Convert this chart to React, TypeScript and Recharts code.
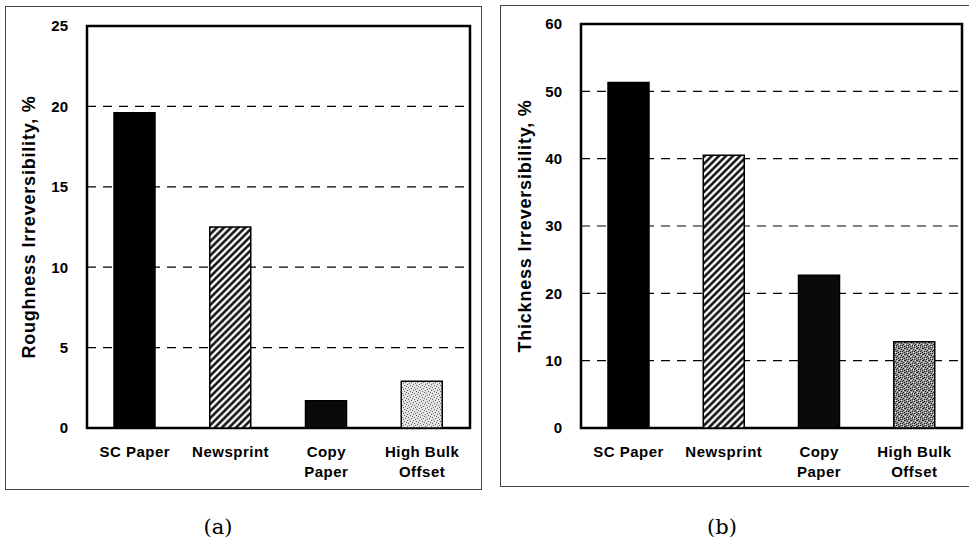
import React from "react";
import { Bar, BarChart, CartesianGrid, Cell, Label, ReferenceArea, XAxis, YAxis } from "recharts";

const categories = ["SC Paper", "Newsprint", "Copy Paper", "High Bulk Offset"];
const categoryLines = [["SC Paper"], ["Newsprint"], ["Copy", "Paper"], ["High Bulk", "Offset"]];
const roughness = [19.6, 12.5, 1.7, 2.9];
const thickness = [51.3, 40.5, 22.7, 12.8];
const roughnessTicks = [0, 5, 10, 15, 20, 25];
const thicknessTicks = [0, 10, 20, 30, 40, 50, 60];

const font = "'Liberation Sans', Arial, sans-serif";

function XTick({ x, y, payload }: any) {
  const lines = categoryLines[categories.indexOf(payload.value)] || [payload.value];
  return (
    <text x={x} y={y} textAnchor="middle" fontFamily={font} fontWeight="bold" fontSize={15} letterSpacing={0.5} fill="#000">
      {lines.map((t, i) => (
        <tspan key={t} x={x} dy={i === 0 ? 29 : 20}>
          {t}
        </tspan>
      ))}
    </text>
  );
}

function Patterns({ id }: { id: string }) {
  return (
    <defs>
      <pattern id={`hatch-${id}`} width={5} height={5} patternUnits="userSpaceOnUse" patternTransform="rotate(45)">
        <rect width={5} height={5} fill="#fff" />
        <line x1={1.5} y1={0} x2={1.5} y2={5} stroke="#000" strokeWidth={2.4} />
      </pattern>
      <pattern id={`dots-light-${id}`} width={6} height={6} patternUnits="userSpaceOnUse">
        <rect width={6} height={6} fill="#e4e4e4" />
        {[[0, 0], [3, 1], [1, 3], [4, 4], [5, 2], [2, 5]].map(([px, py]) => (
          <rect key={`${px}-${py}`} x={px} y={py} width={1} height={1} fill="#666" />
        ))}
      </pattern>
      <pattern id={`dots-dark-${id}`} width={6} height={6} patternUnits="userSpaceOnUse">
        <rect width={6} height={6} fill="#9a9a9a" />
        {[[0, 0], [3, 1], [1, 3], [4, 4], [5, 2], [2, 5], [2, 1], [4, 0], [0, 4]].map(([px, py]) => (
          <rect key={`${px}-${py}`} x={px} y={py} width={1} height={1} fill="#222" />
        ))}
        {[[1, 1], [5, 5], [3, 3]].map(([px, py]) => (
          <rect key={`w${px}-${py}`} x={px} y={py} width={1} height={1} fill="#eee" />
        ))}
      </pattern>
    </defs>
  );
}

type PanelProps = {
  id: string;
  values: number[];
  ticks: number[];
  label: string;
  fills: string[];
  left: number;
  top: number;
  width: number;
  height: number;
  margin: { top: number; right: number; bottom: number; left: number };
  yWidth: number;
  xHeight: number;
  labelOffset: number;
};

function Panel(p: PanelProps) {
  const data = categories.map((name, i) => ({ name, value: p.values[i] }));
  const max = p.ticks[p.ticks.length - 1];
  return (
    <div style={{ position: "absolute", left: p.left, top: p.top }}>
      <BarChart width={p.width} height={p.height} data={data} margin={p.margin} barCategoryGap="28%">
        <Patterns id={p.id} />
        <CartesianGrid vertical={false} stroke="#000" strokeWidth={1.2} strokeDasharray="9 7" />
        <XAxis
          dataKey="name"
          interval={0}
          height={p.xHeight}
          tickLine={false}
          axisLine={false}
          tickSize={0}
          tickMargin={0}
          tick={<XTick />}
        />
        <YAxis
          type="number"
          domain={[0, max]}
          ticks={p.ticks}
          interval={0}
          width={p.yWidth}
          tickLine={false}
          axisLine={false}
          tickSize={0}
          tickMargin={19}
          tick={{ fontSize: 15, fontWeight: "bold", fill: "#000", fontFamily: font }}
        >
          <Label
            value={p.label}
            angle={-90}
            position="insideLeft"
            offset={p.labelOffset}
            style={{ textAnchor: "middle", fontSize: 18, fontWeight: "bold", fill: "#000", fontFamily: font, letterSpacing: 0.8 }}
          />
        </YAxis>
        <Bar dataKey="value" barSize={41} stroke="#000" strokeWidth={1.5} isAnimationActive={false}>
          {data.map((d, i) => (
            <Cell key={d.name} fill={p.fills[i]} />
          ))}
        </Bar>
        <ReferenceArea y1={0} y2={max} fill="none" stroke="#000" strokeWidth={2.5} ifOverflow="visible" />
      </BarChart>
    </div>
  );
}

export default function App() {
  return (
    <div style={{ position: "absolute", left: 0, top: 0, width: 969, height: 549, background: "#fff", overflow: "hidden" }}>
      <div style={{ position: "absolute", left: 5, top: 6, width: 477, height: 484, border: "1.5px solid #444", boxSizing: "border-box" }} />
      <div style={{ position: "absolute", left: 500, top: 5, width: 480, height: 482, border: "1.5px solid #444", boxSizing: "border-box" }} />
      <Panel
        id="a"
        values={roughness}
        ticks={roughnessTicks}
        label="Roughness Irreversibility, %"
        fills={["#000", "url(#hatch-a)", "#0a0a0a", "url(#dots-light-a)"]}
        left={5}
        top={6}
        width={477}
        height={483}
        margin={{ top: 20, right: 12, bottom: 0, left: 0 }}
        yWidth={82}
        xHeight={61}
        labelOffset={24}
      />
      <Panel
        id="b"
        values={thickness}
        ticks={thicknessTicks}
        label="Thickness Irreversibility, %"
        fills={["#000", "url(#hatch-b)", "#0a0a0a", "url(#dots-dark-b)"]}
        left={500}
        top={5}
        width={469}
        height={481}
        margin={{ top: 19, right: 7, bottom: 0, left: 0 }}
        yWidth={81}
        xHeight={58}
        labelOffset={25}
      />
      <div style={{ position: "absolute", left: 168, top: 512, width: 100, textAlign: "center", fontFamily: "'DejaVu Serif', serif", fontSize: 21, lineHeight: "30px" }}>
        (a)
      </div>
      <div style={{ position: "absolute", left: 672, top: 512, width: 100, textAlign: "center", fontFamily: "'DejaVu Serif', serif", fontSize: 21, lineHeight: "30px" }}>
        (b)
      </div>
    </div>
  );
}
